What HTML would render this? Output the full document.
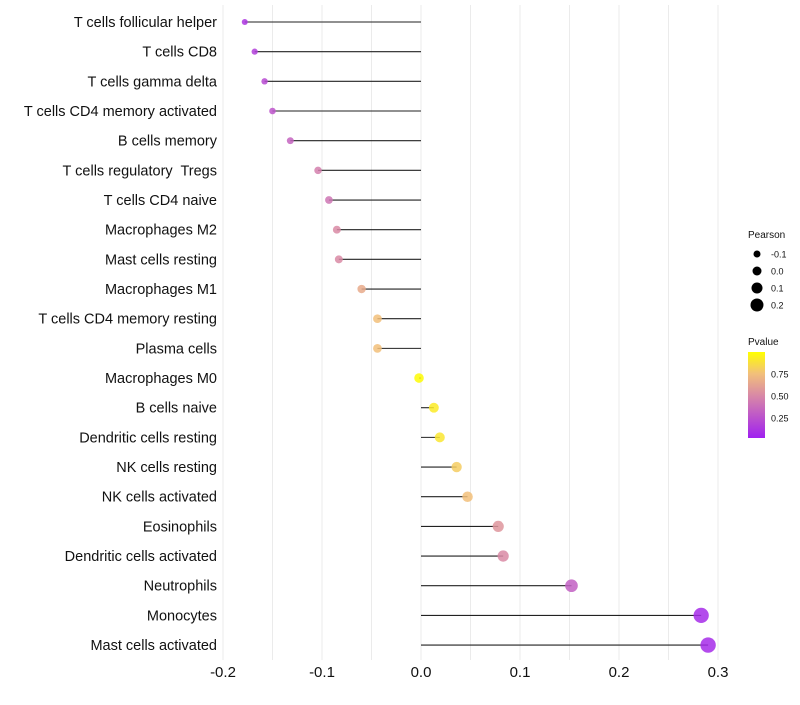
<!DOCTYPE html>
<html><head><meta charset="utf-8"><style>
body{margin:0;background:#fff;font-family:"Liberation Sans",sans-serif}
text{white-space:pre}
</style></head><body>
<svg id="c" width="800" height="700" xmlns="http://www.w3.org/2000/svg">
<defs><linearGradient id="pg" x1="0" y1="1" x2="0" y2="0">
<stop offset="0" stop-color="#a020f0"/><stop offset="0.5" stop-color="#d98aa5"/><stop offset="0.75" stop-color="#f2c07a"/><stop offset="1" stop-color="#ffff00"/></linearGradient></defs>
<g id="grid"></g><g id="marks"></g><g id="labels"></g><g id="legend"></g>
</svg>
<script>
const categories=["T cells follicular helper","T cells CD8","T cells gamma delta","T cells CD4 memory activated","B cells memory","T cells regulatory  Tregs","T cells CD4 naive","Macrophages M2","Mast cells resting","Macrophages M1","T cells CD4 memory resting","Plasma cells","Macrophages M0","B cells naive","Dendritic cells resting","NK cells resting","NK cells activated","Eosinophils","Dendritic cells activated","Neutrophils","Monocytes","Mast cells activated"];
const pearson=[-0.178,-0.168,-0.158,-0.150,-0.132,-0.104,-0.093,-0.085,-0.083,-0.060,-0.044,-0.044,-0.002,0.013,0.019,0.036,0.047,0.078,0.083,0.152,0.283,0.290];
const pvalues=[0.10,0.15,0.20,0.25,0.32,0.45,0.40,0.50,0.50,0.65,0.75,0.75,0.99,0.92,0.90,0.80,0.75,0.55,0.50,0.30,0.05,0.05];
const xTicks=[-0.2,-0.1,0,0.1,0.2,0.3];
const NS="http://www.w3.org/2000/svg";
const x=v=>421+v*990;
const y=i=>22+i*29.67;
const r=v=>4.8+10*v;
function col(p){
 const stops=[[0,[160,32,240]],[0.5,[217,138,165]],[0.75,[242,192,122]],[1,[255,255,0]]];
 for(let k=1;k<stops.length;k++){if(p<=stops[k][0]){const a=stops[k-1],b=stops[k],t=(p-a[0])/(b[0]-a[0]);
  return "rgb("+a[1].map((c,j)=>Math.round(c+(b[1][j]-c)*t)).join(",")+")";}}
 return "rgb(255,255,0)";}
function mk(t,at,parent){const e=document.createElementNS(NS,t);for(const k in at)e.setAttribute(k,at[k]);document.getElementById(parent).appendChild(e);return e;}
for(let v=-0.2;v<=0.301;v+=0.05){const l=mk("line",{x1:x(v),x2:x(v),y1:5,y2:660,stroke:"#ebebeb","stroke-width":1},"grid");

}
xTicks.forEach(t=>{const e=mk("text",{x:x(t),y:677,"text-anchor":"middle","font-size":15,fill:"#111"},"labels");e.textContent=(t===0?"0.0":t.toString());

});
categories.forEach((c,i)=>{
 const l=mk("line",{x1:x(0),x2:x(pearson[i]),y1:y(i),y2:y(i),stroke:"#222","stroke-width":1.1},"marks");
 
 
 const p=mk("circle",{cx:x(pearson[i]),cy:y(i),r:Math.max(1.8,r(pearson[i])),fill:col(pvalues[i]),"fill-opacity":0.85},"marks");
 
 
 const t=mk("text",{x:217,y:y(i)+5,"text-anchor":"end","font-size":14.5,fill:"#111"},"labels");t.textContent=c;
 
 
});
const sizeTicks=[-0.1,0,0.1,0.2];
let h=mk("text",{x:748,y:238,"font-size":10,fill:"#111"},"legend");h.textContent="Pearson";


sizeTicks.forEach((s,k)=>{const cy=254+k*17;
 const c=mk("circle",{cx:757,cy:cy,r:r(s)-0.3,fill:"#000"},"legend");
 
 
 const t=mk("text",{x:771,y:cy+3.5,"font-size":9,fill:"#111"},"legend");t.textContent=(s===0?"0.0":s.toString());
 
 });
h=mk("text",{x:748,y:345,"font-size":10,fill:"#111"},"legend");h.textContent="Pvalue";


const bar=mk("rect",{x:748,y:352,width:17,height:86,fill:"url(#pg)"},"legend");


[0.75,0.5,0.25].forEach(v=>{const yy=352+(1-v)*88;
 const t=mk("text",{x:771,y:yy+3.5,"font-size":9,fill:"#111"},"legend");t.textContent=v.toFixed(2);
 
 });
</script>
</body></html>
